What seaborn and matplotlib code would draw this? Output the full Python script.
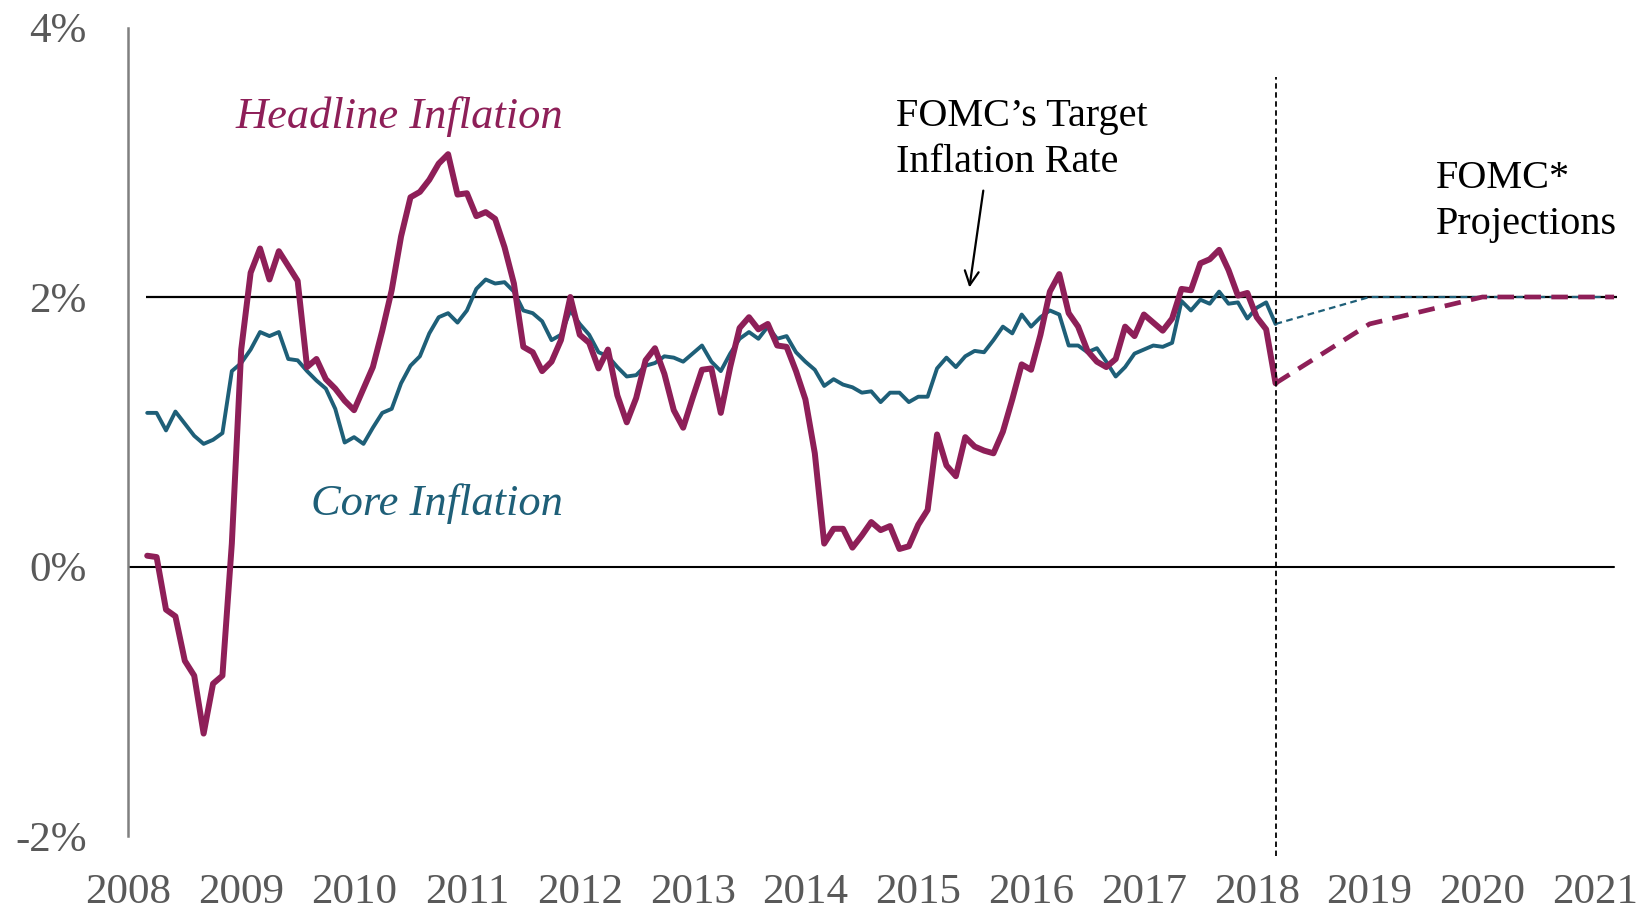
import numpy as np
import pandas as pd
import matplotlib
matplotlib.use('Agg')
import matplotlib.pyplot as plt
import seaborn as sns

# monthly readings, Mar 2008 .. Mar 2018 (year-over-year %)
headline = [
    0.08, 0.07, -0.32, -0.37, -0.70, -0.81, -1.24, -0.87, -0.81, 0.17,
    1.61, 2.18, 2.36, 2.13, 2.34, 2.23, 2.12, 1.48, 1.54, 1.39,
    1.32, 1.23, 1.16, 1.32, 1.48, 1.75, 2.05, 2.45, 2.74, 2.78,
    2.87, 2.99, 3.06, 2.76, 2.77, 2.60, 2.63, 2.58, 2.37, 2.10,
    1.63, 1.59, 1.45, 1.52, 1.68, 2.00, 1.72, 1.66, 1.47, 1.61,
    1.27, 1.07, 1.25, 1.53, 1.62, 1.43, 1.16, 1.03, 1.25, 1.46,
    1.47, 1.14, 1.48, 1.77, 1.85, 1.76, 1.80, 1.64, 1.63, 1.45,
    1.24, 0.84, 0.17, 0.28, 0.28, 0.14, 0.23, 0.33, 0.27, 0.30,
    0.13, 0.15, 0.31, 0.42, 0.98, 0.75, 0.67, 0.96, 0.89, 0.86,
    0.84, 1.00, 1.24, 1.50, 1.46, 1.72, 2.04, 2.17, 1.88, 1.78,
    1.60, 1.52, 1.48, 1.54, 1.78, 1.71, 1.87, 1.81, 1.75, 1.84,
    2.06, 2.05, 2.25, 2.28, 2.35, 2.20, 2.01, 2.03, 1.85, 1.76,
    1.36,
]
core = [
    1.14, 1.14, 1.01, 1.15, 1.06, 0.97, 0.91, 0.94, 0.99, 1.45,
    1.51, 1.61, 1.74, 1.71, 1.74, 1.54, 1.53, 1.45, 1.38, 1.32,
    1.17, 0.92, 0.96, 0.91, 1.03, 1.14, 1.17, 1.36, 1.49, 1.56,
    1.73, 1.85, 1.88, 1.81, 1.90, 2.06, 2.13, 2.10, 2.11, 2.04,
    1.90, 1.88, 1.82, 1.68, 1.72, 1.90, 1.80, 1.72, 1.59, 1.56,
    1.48, 1.41, 1.42, 1.49, 1.51, 1.56, 1.55, 1.52, 1.58, 1.64,
    1.52, 1.45, 1.58, 1.69, 1.74, 1.69, 1.78, 1.69, 1.71, 1.59,
    1.52, 1.46, 1.34, 1.39, 1.35, 1.33, 1.29, 1.30, 1.22, 1.29,
    1.29, 1.22, 1.26, 1.26, 1.47, 1.55, 1.48, 1.56, 1.60, 1.59,
    1.68, 1.78, 1.73, 1.87, 1.78, 1.85, 1.90, 1.87, 1.64, 1.64,
    1.59, 1.62, 1.52, 1.41, 1.48, 1.58, 1.61, 1.64, 1.63, 1.66,
    1.97, 1.90, 1.98, 1.95, 2.04, 1.95, 1.96, 1.84, 1.92, 1.96,
    1.80,
]
dates = pd.date_range('2008-03-01', periods=len(headline), freq='MS')

# FOMC projections
proj_dates = pd.to_datetime(['2018-03-01', '2019-01-01', '2020-01-01', '2021-03-01'])
proj_headline = [1.36, 1.80, 2.00, 2.00]
proj_core = [1.80, 2.00, 2.00, 2.00]

target = 2.0
year_ticks = list(range(2008, 2022))
y_ticks = [-2, 0, 2, 4]
y_labels = ['-2%', '0%', '2%', '4%']

MAROON = '#8E1F58'
TEAL = '#1E5F78'
GRAY = '#595959'


def dec_year(d):
    return d.year + (d.month - 1) / 12


df = pd.DataFrame({'x': [dec_year(d) for d in dates],
                   'headline': headline, 'core': core})
proj = pd.DataFrame({'x': [dec_year(d) for d in proj_dates],
                     'headline': proj_headline, 'core': proj_core})

sns.set_style('white')
plt.rcParams['font.family'] = ['Liberation Serif', 'DejaVu Serif']

fig = plt.figure(figsize=(16.37, 9.10), dpi=100)
ax = fig.add_axes([128.4 / 1637, 74 / 910, 1 - 128.4 / 1637, 808.5 / 910])
ax.set_xlim(2008, 2021.37)
ax.set_ylim(-2, 4)

ax.axhline(0, xmin=0, xmax=(2021.17 - 2008) / 13.37, color='black', lw=1.5)
ax.hlines(target, 2008.16, 2021.19, color='black', lw=1.6)

sns.lineplot(data=df, x='x', y='core', ax=ax, color=TEAL, lw=2.8)
sns.lineplot(data=df, x='x', y='headline', ax=ax, color=MAROON, lw=4.3)
sns.lineplot(data=proj, x='x', y='core', ax=ax, color=TEAL, lw=1.6,
             linestyle=(0, (3, 2)))
sns.lineplot(data=proj, x='x', y='headline', ax=ax, color=MAROON, lw=3.4,
             linestyle=(0, (3.5, 2.2)))

ax.vlines(df['x'].iloc[-1], -2.15, 3.63, color='black', lw=1.3,
          linestyles=(0, (3, 2)), clip_on=False)

ax.text(2008.945, 3.34, 'Headline Inflation', color=MAROON, fontsize=32,
        style='italic', va='center', ha='left')
ax.text(2009.62, 0.47, 'Core Inflation', color=TEAL, fontsize=32,
        style='italic', va='center', ha='left')
ax.text(2014.80, 3.17, 'FOMC\u2019s Target\nInflation Rate', color='black',
        fontsize=29, va='center', ha='left', linespacing=1.3)
ax.text(2019.585, 2.71, 'FOMC*\nProjections', color='black',
        fontsize=29, va='center', ha='left', linespacing=1.3)
ax.annotate('', xy=(2015.45, 2.05), xytext=(2015.58, 2.81),
            arrowprops=dict(arrowstyle='->', lw=1.6, color='black',
                            mutation_scale=25))

ax.set_xticks(year_ticks)
ax.set_xticklabels([str(y) for y in year_ticks])
ax.set_yticks(y_ticks)
ax.set_yticklabels(y_labels)
ax.tick_params(axis='both', length=0, labelsize=31, labelcolor=GRAY)
ax.tick_params(axis='y', pad=30)
ax.tick_params(axis='x', pad=27)
ax.set_xlabel('')
ax.set_ylabel('')

for side in ['top', 'right', 'bottom']:
    ax.spines[side].set_visible(False)
ax.spines['left'].set_color('#808080')
ax.spines['left'].set_linewidth(1.8)

fig.savefig('out.png', dpi=100)
